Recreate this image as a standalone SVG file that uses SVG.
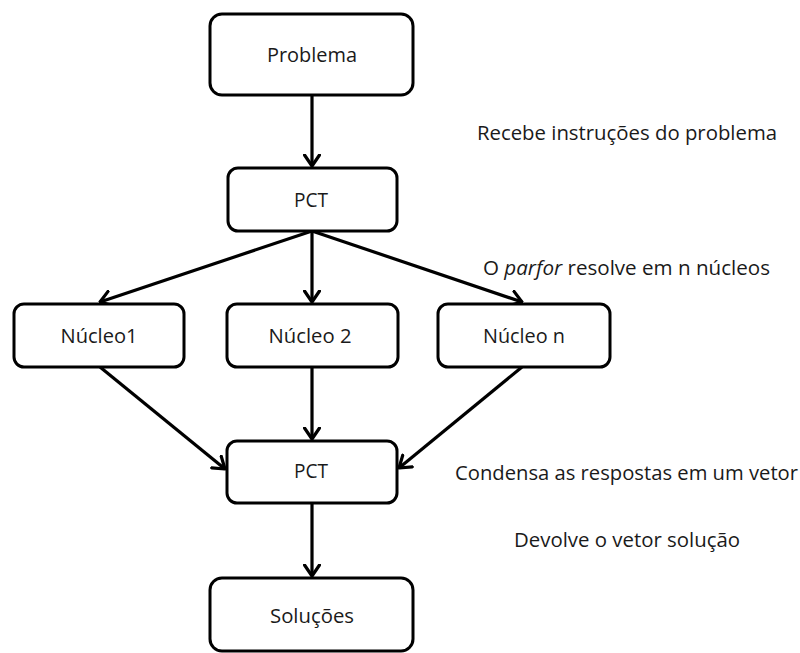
<svg xmlns="http://www.w3.org/2000/svg" width="800" height="653" viewBox="0 0 800 653">
<defs>
<style>
.box{fill:#fff;stroke:#000;stroke-width:3}
.lbl{font-family:"Open Sans","Liberation Sans",sans-serif;font-size:19.5px;fill:#1a1a1a;text-anchor:middle}
.note{font-family:"Open Sans","Liberation Sans",sans-serif;font-size:19.5px;fill:#1a1a1a}
.con{stroke:#000;stroke-width:3.2;fill:none;marker-end:url(#ah)}
</style>
<marker id="ah" viewBox="0 0 14 18" refX="12.5" refY="9" markerWidth="14" markerHeight="18" markerUnits="userSpaceOnUse" orient="auto">
<path d="M1.5,1.5 L12.5,9 L1.5,16.5" fill="none" stroke="#000" stroke-width="3.2" stroke-linecap="round" stroke-linejoin="round"/>
</marker>
</defs>
<rect width="800" height="653" fill="#fff"/>
<g id="connectors">
<line class="con" x1="312" y1="95" x2="312" y2="166"/>
<line class="con" x1="312" y1="231" x2="100" y2="302"/>
<line class="con" x1="312" y1="231" x2="312" y2="302"/>
<line class="con" x1="312" y1="231" x2="522" y2="302"/>
<line class="con" x1="100" y1="367" x2="225" y2="469"/>
<line class="con" x1="312" y1="367" x2="312" y2="439"/>
<line class="con" x1="522" y1="367" x2="399" y2="468"/>
<line class="con" x1="312" y1="503" x2="312" y2="576"/>
</g>
<g id="problema">
<rect class="box" x="210" y="14" width="203" height="81" rx="12"/>
<text class="lbl" x="312" y="62" textLength="90" lengthAdjust="spacingAndGlyphs">Problema</text>
</g>
<g id="pct1">
<rect class="box" x="228" y="168" width="169" height="63" rx="10"/>
<text class="lbl" x="311" y="207" textLength="34" lengthAdjust="spacingAndGlyphs">PCT</text>
</g>
<g id="nucleo1">
<rect class="box" x="14" y="304" width="170" height="63" rx="10"/>
<text class="lbl" x="99" y="343" textLength="77" lengthAdjust="spacingAndGlyphs">Núcleo1</text>
</g>
<g id="nucleo2">
<rect class="box" x="227" y="304" width="171" height="63" rx="10"/>
<text class="lbl" x="310" y="343" textLength="83" lengthAdjust="spacingAndGlyphs">Núcleo 2</text>
</g>
<g id="nucleon">
<rect class="box" x="438" y="304" width="172" height="63" rx="10"/>
<text class="lbl" x="524" y="343" textLength="82" lengthAdjust="spacingAndGlyphs">Núcleo n</text>
</g>
<g id="pct2">
<rect class="box" x="227" y="441" width="170" height="62" rx="10"/>
<text class="lbl" x="311" y="478" textLength="34" lengthAdjust="spacingAndGlyphs">PCT</text>
</g>
<g id="solucoes">
<rect class="box" x="210" y="578" width="203" height="73" rx="12"/>
<text class="lbl" x="312" y="623" textLength="84" lengthAdjust="spacingAndGlyphs">Soluções</text>
</g>
<g id="notes">
<text class="note" x="477" y="140" textLength="300" lengthAdjust="spacingAndGlyphs">Recebe instruções do problema</text>
<text class="note" x="483" y="275" textLength="287" lengthAdjust="spacingAndGlyphs">O <tspan font-style="italic">parfor</tspan> resolve em n núcleos</text>
<text class="note" x="455" y="480" textLength="343" lengthAdjust="spacingAndGlyphs">Condensa as respostas em um vetor</text>
<text class="note" x="514" y="547" textLength="226" lengthAdjust="spacingAndGlyphs">Devolve o vetor solução</text>
</g>
</svg>
